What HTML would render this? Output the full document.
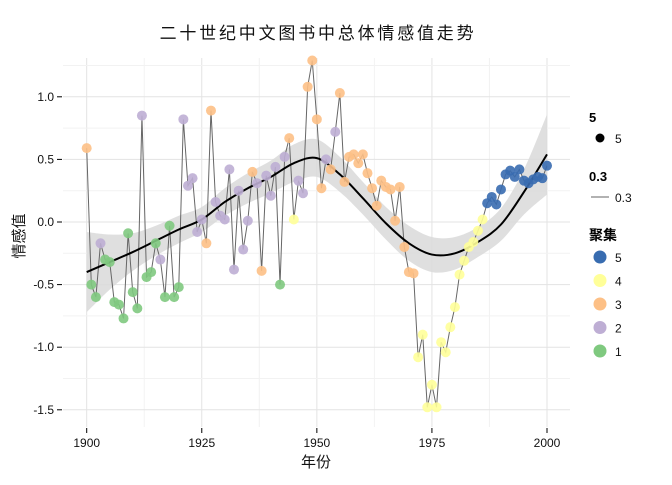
<!DOCTYPE html>
<html><head><meta charset="utf-8"><style>
body{margin:0;background:#fff;width:672px;height:480px;overflow:hidden;font-family:"Liberation Sans","Noto Sans CJK SC",sans-serif}
</style></head><body>
<svg id="chart" width="672" height="480" xmlns="http://www.w3.org/2000/svg" font-family="Liberation Sans, Noto Sans CJK SC, sans-serif">
<g id="grid"></g>
<g id="band"></g>
<g id="series"></g>
<g id="axes"></g>
<text x="318" y="39" text-anchor="middle" font-size="17" letter-spacing="2.8" fill="#111">二十世纪中文图书中总体情感值走势</text>
<text x="316" y="467" text-anchor="middle" font-size="15" fill="#111">年份</text>
<text transform="translate(24,236) rotate(-90)" text-anchor="middle" font-size="15" fill="#111">情感值</text>
<g font-size="13">
<text x="589" y="122" font-weight="bold" fill="#000">5</text>
<circle cx="600" cy="138" r="4.5" fill="#000"/>
<text x="615" y="143" fill="#111" font-size="12">5</text>
<text x="589" y="181" font-weight="bold" fill="#000">0.3</text>
<line x1="591" y1="197" x2="609" y2="197" stroke="#666" stroke-width="1"/>
<text x="615" y="202" fill="#111" font-size="12">0.3</text>
<text x="589" y="240" font-weight="bold" fill="#000" font-size="14">聚集</text>
<g id="legclusters"></g>
</g>
</svg>
<script>
const years=[];for(let y=1900;y<=2000;y++)years.push(y);
const values=[0.59,-0.50,-0.60,-0.17,-0.30,-0.32,-0.64,-0.66,-0.77,-0.09,-0.56,-0.69,0.85,-0.44,-0.40,-0.17,-0.30,-0.60,-0.03,-0.60,-0.52,0.82,0.29,0.35,-0.08,0.02,-0.17,0.89,0.16,0.05,0.02,0.42,-0.38,0.25,-0.22,0.01,0.40,0.31,-0.39,0.37,0.21,0.44,-0.50,0.52,0.67,0.02,0.33,0.23,1.08,1.29,0.82,0.27,0.50,0.42,0.72,1.03,0.32,0.52,0.54,0.47,0.54,0.39,0.27,0.13,0.33,0.28,0.26,0.01,0.28,-0.20,-0.40,-0.41,-1.08,-0.90,-1.48,-1.30,-1.48,-0.96,-1.04,-0.84,-0.68,-0.42,-0.31,-0.20,-0.16,-0.07,0.02,0.15,0.20,0.14,0.26,0.38,0.41,0.36,0.42,0.33,0.31,0.34,0.36,0.35,0.45];
const clusters=[3,1,1,2,1,1,1,1,1,1,1,1,2,1,1,1,2,1,1,1,1,2,2,2,2,2,3,3,2,2,2,2,2,2,2,2,3,2,3,2,2,2,1,2,3,4,2,2,3,3,3,3,2,3,2,3,3,3,3,3,3,3,3,3,3,3,3,3,3,3,3,3,4,4,4,4,4,4,4,4,4,4,4,4,4,4,4,5,5,5,5,5,5,5,5,5,5,5,5,5,5];
const smoothYears=[1900,1905,1910,1915,1920,1925,1930,1935,1940,1945,1950,1955,1960,1965,1970,1975,1980,1985,1990,1995,2000];
const smoothVals=[-0.40,-0.32,-0.24,-0.15,-0.06,0.02,0.16,0.27,0.36,0.47,0.51,0.38,0.19,-0.01,-0.17,-0.26,-0.25,-0.16,-0.02,0.24,0.54];
const smoothSE=[0.32,0.22,0.15,0.12,0.11,0.10,0.11,0.12,0.13,0.15,0.15,0.14,0.13,0.13,0.14,0.14,0.13,0.12,0.13,0.18,0.32];
const xTicks=[1900,1925,1950,1975,2000];
const yTicks=[-1.5,-1.0,-0.5,0.0,0.5,1.0];
const colors={1:"#7fc97f",2:"#beaed4",3:"#fdc086",4:"#ffff99",5:"#386cb0"};
const L=63,R=570,T=58,B=427;
const X=v=>86.7+(v-1900)*(547-86.7)/100;
const Y=v=>222-v*125.2;
const ns="http://www.w3.org/2000/svg";
function mk(t,a,p){const e=document.createElementNS(ns,t);for(const k in a)e.setAttribute(k,a[k]);p.appendChild(e);return e;}
function curve(pts){let d='M'+pts[0][0]+','+pts[0][1];for(let i=0;i<pts.length-1;i++){const p0=pts[Math.max(0,i-1)],p1=pts[i],p2=pts[i+1],p3=pts[Math.min(pts.length-1,i+2)];
 d+=' C'+(p1[0]+(p2[0]-p0[0])/6)+','+(p1[1]+(p2[1]-p0[1])/6)+' '+(p2[0]-(p3[0]-p1[0])/6)+','+(p2[1]-(p3[1]-p1[1])/6)+' '+p2[0]+','+p2[1];}return d;}
const grid=document.getElementById('grid'),axes=document.getElementById('axes');
for(let i=0;i<xTicks.length;i++){
 if(i<xTicks.length-1){const m=(xTicks[i]+xTicks[i+1])/2;const g=mk('line',{x1:X(m),x2:X(m),y1:T,y2:B,stroke:'#f2f2f2','stroke-width':1},grid);}
 const g=mk('line',{x1:X(xTicks[i]),x2:X(xTicks[i]),y1:T,y2:B,stroke:'#e3e3e3','stroke-width':1},grid);
 
 const t=mk('line',{x1:X(xTicks[i]),x2:X(xTicks[i]),y1:428,y2:433,stroke:'#000','stroke-width':1},axes);
 
 const l=mk('text',{x:X(xTicks[i]),y:447,'text-anchor':'middle','font-size':12,fill:'#111'},axes);l.textContent=xTicks[i];
 
}
for(let i=0;i<yTicks.length;i++){
 const mv=yTicks[i]+0.25;
 const gm=mk('line',{x1:L,x2:R,y1:Y(mv),y2:Y(mv),stroke:'#f2f2f2','stroke-width':1},grid);
 
 const g=mk('line',{x1:L,x2:R,y1:Y(yTicks[i]),y2:Y(yTicks[i]),stroke:'#e3e3e3','stroke-width':1},grid);
 
 const t=mk('line',{x1:57,x2:62,y1:Y(yTicks[i]),y2:Y(yTicks[i]),stroke:'#000','stroke-width':1},axes);
 
 const l=mk('text',{x:54,y:Y(yTicks[i])+4,'text-anchor':'end','font-size':12,fill:'#111'},axes);l.textContent=yTicks[i].toFixed(1);
 
}
const upPts=smoothYears.map((y,i)=>[X(y),Y(smoothVals[i]+smoothSE[i])]);
const dnPts=smoothYears.map((y,i)=>[X(y),Y(smoothVals[i]-smoothSE[i])]).reverse();
const band=document.getElementById('band');
const bp=mk('path',{d:curve(upPts)+' L'+curve(dnPts).slice(1)+' Z',fill:'#d9d9d9','fill-opacity':0.85},band);

const series=document.getElementById('series');
const ln=mk('polyline',{points:years.map((y,i)=>X(y)+','+Y(values[i])).join(' '),fill:'none',stroke:'#666','stroke-width':1},series);

const sm=mk('path',{d:curve(smoothYears.map((y,i)=>[X(y),Y(smoothVals[i])])),fill:'none',stroke:'#000','stroke-width':2},series);

for(let i=0;i<years.length;i++){
 const c=mk('circle',{cx:X(years[i]),cy:Y(values[i]),r:5,fill:colors[clusters[i]],'fill-opacity':0.9},series);
 
}
const lc=document.getElementById('legclusters');
[5,4,3,2,1].forEach((k,j)=>{
 const c=mk('circle',{cx:600,cy:257+j*23.5,r:6.5,fill:colors[k]},lc);
 
 const t=mk('text',{x:615,y:262+j*23.5,'font-size':12,fill:'#111'},lc);t.textContent=k;
 
});
</script>
</body></html>
